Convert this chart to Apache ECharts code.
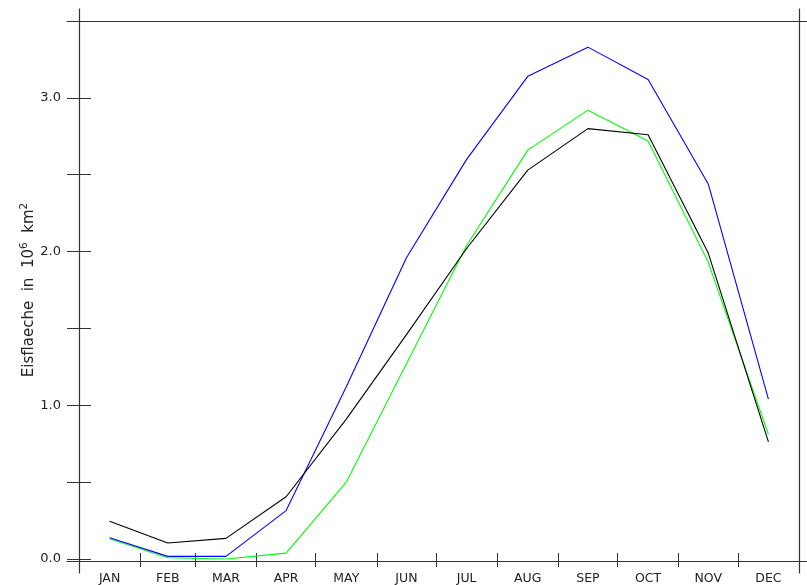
<!DOCTYPE html>
<html>
<head>
<meta charset="utf-8">
<script src="https://cdn.jsdelivr.net/npm/echarts@6/dist/echarts.min.js"></script>
<style>
  html, body { margin: 0; padding: 0; background: #fff; }
  #chart { width: 807px; height: 585px; }
</style>
</head>
<body>
<div id="chart"></div>
<script>
// Monthly mean sea-ice area, three data sets, plotted on a day-of-year axis
const months = ['JAN', 'FEB', 'MAR', 'APR', 'MAY', 'JUN', 'JUL', 'AUG', 'SEP', 'OCT', 'NOV', 'DEC'];
const midMonthDays = [15.5, 45, 74.5, 105, 135.5, 166, 196.5, 227.5, 258, 288.5, 319, 349.5];
const monthStartDays = [0, 31, 59, 90, 120, 151, 181, 212, 243, 273, 304, 334, 365];
const yLabelValues = [0, 1, 2, 3];

const areaBlack = [0.245, 0.104, 0.134, 0.405, 0.91, 1.46, 2.02, 2.53, 2.80, 2.76, 1.99, 0.762];
const areaBlue  = [0.138, 0.017, 0.017, 0.315, 1.12, 1.96, 2.60, 3.14, 3.33, 3.12, 2.44, 1.04];
const areaGreen = [0.132, 0.008, 0.0, 0.038, 0.50, 1.27, 2.04, 2.66, 2.92, 2.72, 1.93, 0.81];

const FONT = 'DejaVu Sans';
const FRAME = '#333333';

function pairs(values) {
  return values.map((v, i) => [midMonthDays[i], v]);
}

const chart = echarts.init(document.getElementById('chart'), null, { renderer: 'canvas' });

const hiddenAxis = { show: false };

chart.setOption({
  animation: false,
  backgroundColor: '#ffffff',
  grid: [
    // data area
    { left: 79, top: 21, width: 720, height: 540 },
    // horizontal frame lines, running past the corners
    { left: 67, top: 21, width: 745, height: 540 },
    // vertical frame lines, running past the corners
    { left: 79, top: 9, width: 720, height: 564 }
  ],
  xAxis: [
    {
      gridIndex: 0, type: 'value', position: 'bottom', min: 0, max: 365,
      splitLine: { show: false },
      axisLine: { show: false },
      axisTick: { show: true, inside: false, length: 8, customValues: monthStartDays,
                  lineStyle: { color: FRAME, width: 1 } },
      axisLabel: {
        customValues: midMonthDays,
        formatter: v => months[midMonthDays.indexOf(v)] || '',
        margin: 13, color: '#222', fontFamily: FONT, fontSize: 12.5
      }
    },
    {
      gridIndex: 0, type: 'value', position: 'top', min: 0, max: 365,
      splitLine: { show: false },
      axisLine: { show: false },
      axisTick: { show: true, inside: false, length: 6, customValues: monthStartDays,
                  lineStyle: { color: FRAME, width: 1 } },
      axisLabel: { show: false }
    },
    {
      gridIndex: 1, type: 'value', position: 'bottom', min: 0, max: 1,
      splitLine: { show: false }, axisTick: { show: false }, axisLabel: { show: false },
      axisLine: { show: true, lineStyle: { color: FRAME, width: 1.2 } }
    },
    {
      gridIndex: 1, type: 'value', position: 'top', min: 0, max: 1,
      splitLine: { show: false }, axisTick: { show: false }, axisLabel: { show: false },
      axisLine: { show: true, lineStyle: { color: FRAME, width: 1.2 } }
    },
    Object.assign({ gridIndex: 2, type: 'value', min: 0, max: 1 }, hiddenAxis)
  ],
  yAxis: [
    {
      gridIndex: 0, type: 'value', position: 'left', min: 0, max: 3.5, interval: 0.5,
      splitLine: { show: false },
      axisLine: { show: false },
      axisTick: { show: true, inside: false, length: 12, lineStyle: { color: FRAME, width: 1 } },
      axisLabel: {
        customValues: yLabelValues,
        formatter: v => v.toFixed(1),
        verticalAlignMinLabel: 'middle',
        verticalAlignMaxLabel: 'middle',
        margin: 18, color: '#222', fontFamily: FONT, fontSize: 13
      },
      name: 'Eisflaeche  in  10{sup|6}  km{sup|2}',
      nameLocation: 'middle',
      nameRotate: 90,
      nameGap: 39,
      nameMoveOverlap: false,
      nameTextStyle: {
        color: '#222', fontFamily: FONT, fontSize: 15, lineHeight: 21,
        rich: {
          sup: { fontFamily: FONT, fontSize: 10.5, verticalAlign: 'top', lineHeight: 21, color: '#222' }
        }
      }
    },
    {
      gridIndex: 0, type: 'value', position: 'right', min: 0, max: 3.5, interval: 0.5,
      splitLine: { show: false },
      axisLine: { show: false },
      axisTick: { show: true, inside: false, length: 12, lineStyle: { color: FRAME, width: 1 } },
      axisLabel: { show: false }
    },
    Object.assign({ gridIndex: 1, type: 'value', min: 0, max: 1 }, hiddenAxis),
    {
      gridIndex: 2, type: 'value', position: 'left', min: 0, max: 1,
      splitLine: { show: false }, axisTick: { show: false }, axisLabel: { show: false },
      axisLine: { show: true, lineStyle: { color: FRAME, width: 1.2 } }
    },
    {
      gridIndex: 2, type: 'value', position: 'right', min: 0, max: 1,
      splitLine: { show: false }, axisTick: { show: false }, axisLabel: { show: false },
      axisLine: { show: true, lineStyle: { color: FRAME, width: 1.2 } }
    }
  ],
  series: [
    {
      name: 'green', type: 'line', xAxisIndex: 0, yAxisIndex: 0,
      data: pairs(areaGreen), showSymbol: false, symbol: 'none',
      lineStyle: { color: '#00ff00', width: 1.1 }
    },
    {
      name: 'blue', type: 'line', xAxisIndex: 0, yAxisIndex: 0,
      data: pairs(areaBlue), showSymbol: false, symbol: 'none',
      lineStyle: { color: '#0000ff', width: 1.1 }
    },
    {
      name: 'black', type: 'line', xAxisIndex: 0, yAxisIndex: 0,
      data: pairs(areaBlack), showSymbol: false, symbol: 'none',
      lineStyle: { color: '#000000', width: 1.1 }
    }
  ]
});
</script>
</body>
</html>
